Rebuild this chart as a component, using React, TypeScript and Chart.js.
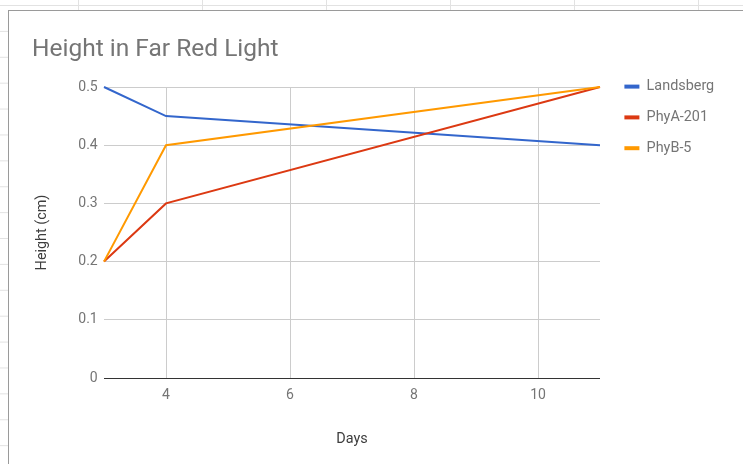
import React, { useEffect, useRef } from 'react';
import { Chart, registerables } from 'chart.js';

Chart.register(...registerables);

// ---- data ----
const days = [3, 4, 11];
const seriesNames = ['Landsberg', 'PhyA-201', 'PhyB-5'];
const landsberg = [0.5, 0.45, 0.4];
const phyA201 = [0.2, 0.3, 0.5];
const phyB5 = [0.2, 0.4, 0.5];
const xTicks = [4, 6, 8, 10];
const yTicks = [0, 0.1, 0.2, 0.3, 0.4, 0.5];
const chartTitle = 'Height in Far Red Light';
const xTitle = 'Days';
const yTitle = 'Height (cm)';

// ---- style ----
const seriesColors = ['#3366cc', '#dc3912', '#ff9900'];
const FONT = 'Roboto';

const legendPlacer = {
  id: 'legendPlacer',
  afterLayout(chart: any) {
    const lg = chart.legend;
    if (!lg) return;
    lg.left = chart.chartArea.right + 8;
    lg.top = chart.chartArea.top - 24;
    lg.width = 130;
    lg.right = lg.left + lg.width;
    lg.height = lg.bottom - lg.top;
  },
};

export default function App() {
  const ref = useRef<HTMLCanvasElement | null>(null);

  useEffect(() => {
    if (!ref.current) return;
    const values = [landsberg, phyA201, phyB5];
    const chart = new Chart(ref.current, {
      type: 'line',
      data: {
        datasets: seriesNames.map((name, i) => ({
          label: name,
          data: days.map((d, j) => ({ x: d, y: values[i][j] })),
          borderColor: seriesColors[i],
          backgroundColor: seriesColors[i],
          borderWidth: 2,
          pointRadius: 0,
          pointHoverRadius: 0,
          tension: 0,
          fill: false,
          clip: false,
          order: seriesNames.length - i,
        })),
      },
      options: {
        animation: false,
        responsive: false,
        devicePixelRatio: 1,
        layout: { padding: { left: 23, top: 0, bottom: 0, right: 83 } },
        plugins: {
          title: {
            display: true,
            text: chartTitle,
            align: 'start',
            color: '#757575',
            font: { family: FONT, size: 24.5, weight: 'normal' },
            padding: { top: 24.1, bottom: 22.5 },
          },
          legend: {
            display: true,
            position: 'right',
            align: 'start',
            maxWidth: 60,
            labels: {
              boxWidth: 15,
              boxHeight: 4,
              padding: 16.4,
              color: '#757575',
              font: { family: FONT, size: 14.4 },
              sort: (a: any, b: any) => a.datasetIndex - b.datasetIndex,
              generateLabels: (c: any) =>
                (Chart.defaults.plugins.legend.labels as any)
                  .generateLabels(c)
                  .map((l: any) => ({ ...l, lineWidth: 0, fillStyle: l.strokeStyle })),
            },
          },
          tooltip: { enabled: false },
        },
        scales: {
          x: {
            type: 'linear',
            min: days[0],
            max: days[days.length - 1],
            afterBuildTicks: (scale: any) => {
              scale.ticks = xTicks.map((v) => ({ value: v }));
            },
            afterFit: (scale: any) => {
              scale.height = 86;
            },
            grid: { color: '#cccccc', drawTicks: false, lineWidth: 1 },
            border: { display: false },
            ticks: {
              color: '#757575',
              font: { family: FONT, size: 14 },
              padding: 9.2,
              maxRotation: 0,
              autoSkip: false,
            },
            title: {
              display: true,
              text: xTitle,
              color: '#3d3d3d',
              font: { family: FONT, size: 14.4 },
              padding: { top: 0, bottom: 15.5 },
            },
          },
          y: {
            type: 'linear',
            min: yTicks[0],
            max: yTicks[yTicks.length - 1],
            afterBuildTicks: (scale: any) => {
              scale.ticks = yTicks.map((v) => ({ value: v }));
            },
            afterFit: (scale: any) => {
              scale.width = 72;
            },
            grid: {
              color: (ctx: any) => (ctx.tick && ctx.tick.value === 0 ? '#333333' : '#cccccc'),
              drawTicks: false,
              lineWidth: 1,
            },
            border: { display: false },
            ticks: {
              color: '#757575',
              font: { family: FONT, size: 14 },
              padding: 6.3,
              autoSkip: false,
            },
            title: {
              display: true,
              text: yTitle,
              color: '#3d3d3d',
              font: { family: FONT, size: 14.4 },
              padding: { top: 2, bottom: 0 },
            },
          },
        },
      },
      plugins: [legendPlacer],
    } as any);
    return () => chart.destroy();
  }, []);

  return (
    <div
      style={{
        position: 'fixed',
        left: 0,
        top: 0,
        width: 743,
        height: 464,
        overflow: 'hidden',
        background: '#ffffff',
        backgroundImage:
          'linear-gradient(to bottom, #e2e2e2 1px, transparent 1px), linear-gradient(to right, #e2e2e2 1px, transparent 1px)',
        backgroundSize: '100% 25.9px, 124px 100%',
        backgroundPosition: '0 5px, 78px 0',
      }}
    >
      <div
        style={{
          position: 'absolute',
          left: 8,
          top: 10,
          width: 800,
          height: 500,
          border: '1px solid #9a9a9a',
          background: '#ffffff',
        }}
      >
        <canvas
          ref={ref}
          width={734}
          height={453}
          style={{ position: 'absolute', left: 0, top: 0, width: 734, height: 453 }}
        />
      </div>
    </div>
  );
}
